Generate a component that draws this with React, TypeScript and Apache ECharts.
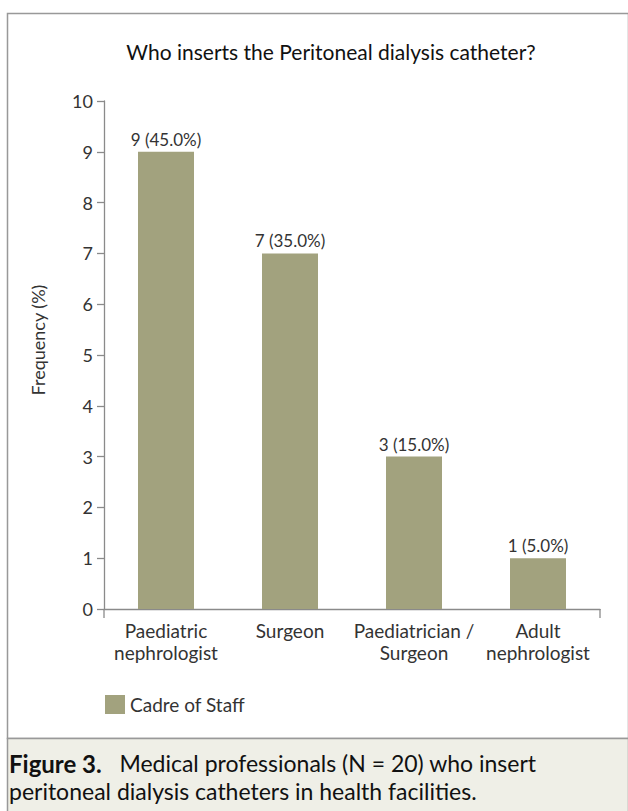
import React, { useEffect, useRef } from "react";
import * as echarts from "echarts";

const categories = ["Paediatric\nnephrologist", "Surgeon", "Paediatrician /\nSurgeon", "Adult\nnephrologist"];
const counts = [9, 7, 3, 1];
const percents = ["45.0", "35.0", "15.0", "5.0"];
const yTicks = [0, 10, 1];
const seriesName = "Cadre of Staff";
const chartTitle = "Who inserts the Peritoneal dialysis catheter?";
const yAxisName = "Frequency (%)";

const W = 628;
const H = 811;
const FONT = "Lato, 'Open Sans', sans-serif";
const BAR = "#a2a27e";
const GRID = { left: 104, right: 28, top: 101, bottom: 202 };

export default function App() {
  const ref = useRef<HTMLDivElement>(null);
  useEffect(() => {
    document.body.style.margin = "0";
    const chart = echarts.init(ref.current!, null, { renderer: "svg" });
    const x0 = GRID.left;
    const x1 = W - GRID.right;
    const yb = H - GRID.bottom;
    chart.setOption({
      animation: false,
      backgroundColor: "#ffffff",
      textStyle: { fontFamily: FONT },
      title: {
        text: chartTitle,
        left: 326,
        top: 36,
        textAlign: "center",
        textStyle: { fontFamily: FONT, fontSize: 21, fontWeight: "normal", color: "#111" },
      },
      legend: {
        data: [seriesName],
        left: 100,
        top: 690,
        itemWidth: 20,
        itemHeight: 19,
        itemGap: 8,
        icon: "rect",
        textStyle: { fontFamily: FONT, fontSize: 19, color: "#333" },
      },
      grid: { ...GRID },
      xAxis: {
        type: "category",
        data: categories,
        axisLine: { lineStyle: { color: "#8a8a8a", width: 1.3 } },
        axisTick: { show: false },
        axisLabel: { fontFamily: FONT, fontSize: 19, color: "#333", lineHeight: 22, margin: 10, interval: 0 },
      },
      yAxis: {
        type: "value",
        min: yTicks[0],
        max: yTicks[1],
        interval: yTicks[2],
        axisLine: { show: true, lineStyle: { color: "#8a8a8a", width: 1.3 } },
        axisTick: { show: true, length: 7, lineStyle: { color: "#8a8a8a", width: 1.3 } },
        splitLine: { show: false },
        axisLabel: { fontFamily: FONT, fontSize: 18, color: "#333", margin: 11 },
      },
      series: [
        {
          name: seriesName,
          type: "bar",
          data: counts,
          barWidth: 56,
          itemStyle: { color: BAR },
          label: {
            show: true,
            position: "top",
            distance: 4,
            fontFamily: FONT,
            fontSize: 17,
            color: "#333",
            formatter: (p: any) => `${counts[p.dataIndex]} (${percents[p.dataIndex]}%)`,
          },
        },
      ],
      graphic: [
        { type: "rect", shape: { x: 7.5, y: 13.5, width: W - 7, height: 725 }, style: { fill: "none", stroke: "#999", lineWidth: 1.5 }, silent: true },
        { type: "rect", shape: { x: 7.5, y: 738.5, width: W - 7, height: 80 }, style: { fill: "#efefe7", stroke: "#999", lineWidth: 1.5 }, silent: true },
        { type: "line", shape: { x1: x0, y1: yb, x2: x0, y2: yb + 9 }, style: { stroke: "#8a8a8a", lineWidth: 1.3 } },
        { type: "line", shape: { x1: x1, y1: yb, x2: x1, y2: yb + 9 }, style: { stroke: "#8a8a8a", lineWidth: 1.3 } },
        {
          type: "text",
          x: 38,
          y: 340,
          rotation: Math.PI / 2,
          style: {
            text: yAxisName,
            fontFamily: FONT,
            fontSize: 18,
            fill: "#333",
            align: "center",
            verticalAlign: "middle",
          },
        },
        {
          type: "text",
          left: 9,
          top: 749,
          style: {
            text: "{b|Figure 3.}   Medical professionals (N = 20) who insert\nperitoneal dialysis catheters in health facilities.",
            fontFamily: FONT,
            fontSize: 23,
            lineHeight: 28,
            fill: "#111",
            rich: {
              b: { fontFamily: FONT, fontSize: 24, fontWeight: "bold", fill: "#111", lineHeight: 28 },
            },
          },
        },
      ],
    });
    return () => chart.dispose();
  }, []);
  return <div ref={ref} style={{ width: W, height: H }} />;
}
